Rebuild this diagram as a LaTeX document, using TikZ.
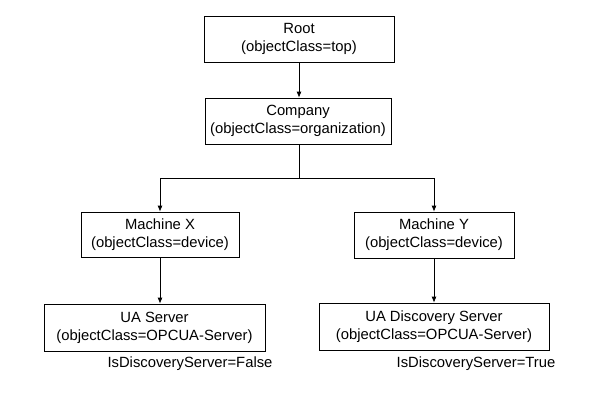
\documentclass[tikz,border=0pt]{standalone}
\usepackage{fontspec}
\setmainfont{Liberation Sans}
\usetikzlibrary{arrows.meta}

\tikzset{
    entry/.style={draw,line width=0.75pt,align=center,inner sep=0pt,
        font=\fontsize{14.8}{18}\selectfont},
    note/.style={inner sep=0pt,font=\fontsize{14.8}{18}\selectfont},
    link/.style={line width=0.75pt},
    arr/.style={link,-{Latex[length=6pt,width=5pt]}}
}

\begin{document}
\begin{tikzpicture}[x=1pt,y=-1pt]
    \useasboundingbox (0,0) rectangle (600,408);
    \node[entry,minimum width=190pt,minimum height=46pt] (root) at (299,39) {Root\\(objectClass=top)};
    \node[entry,minimum width=186pt,minimum height=46pt] (company) at (298,121) {Company\\(objectClass=organization)};
    \node[entry,minimum width=158pt,minimum height=45pt] (machx) at (160,234.5) {Machine X\\(objectClass=device)};
    \node[entry,minimum width=160pt,minimum height=46pt] (machy) at (434,235) {Machine Y\\(objectClass=device)};
    \node[entry,minimum width=221pt,minimum height=47pt] (uasrv) at (154.5,327.5) {UA Server\\(objectClass=OPCUA-Server)};
    \node[entry,minimum width=230pt,minimum height=47pt] (uadisc) at (434,326.5) {UA Discovery Server\\(objectClass=OPCUA-Server)};
    \node[note] (falselbl) at (190,364) {IsDiscoveryServer=False};
    \node[note] (truelbl) at (476,364) {IsDiscoveryServer=True};

    \coordinate (split) at (299,178.5);
    \draw[arr] (root.south) -- (root.south |- company.north);
    \draw[link] (company.south -| split) -- (split);
    \draw[arr] (split) -| (machx.north);
    \draw[arr] (split) -| (machy.north);
    \draw[arr] (machx.south) -- (machx.south |- uasrv.north);
    \draw[arr] (machy.south) -- (uadisc.north);
\end{tikzpicture}
\end{document}
